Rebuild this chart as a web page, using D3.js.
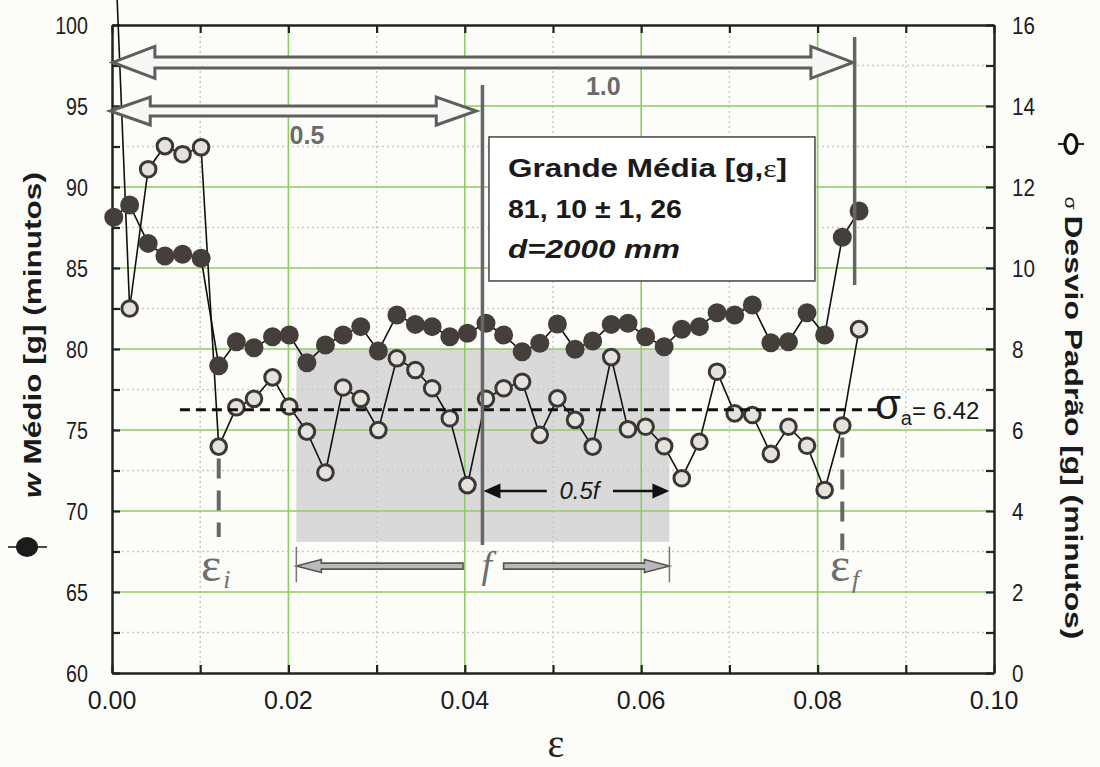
<!DOCTYPE html>
<html lang="pt">
<head>
<meta charset="utf-8">
<title>Grande Média</title>
<script src="https://d3js.org/d3.v7.min.js"></script>
<style>
body { margin:0; background:#fcfcf9; }
svg { display:block; font-family:"Liberation Sans", Arial, sans-serif; }
.tick-lbl { font-size:24px; fill:#1c1c1c; }
</style>
</head>
<body>
<div id="chart"></div>
<script>
// epsilon positions of the runs
var eps = [0.0002,0.0020,0.0041,0.0060,0.0080,0.0101,0.0121,0.0141,0.0161,0.0182,
  0.0201,0.0221,0.0242,0.0262,0.0282,0.0302,0.0323,0.0344,0.0363,0.0383,
  0.0403,0.0424,0.0444,0.0465,0.0485,0.0505,0.0525,0.0545,0.0566,0.0585,
  0.0605,0.0626,0.0646,0.0666,0.0686,0.0706,0.0726,0.0747,0.0767,0.0788,
  0.0808,0.0828,0.0847];
// w medio (left axis)
var wMedio = [88.13,88.89,86.52,85.74,85.85,85.60,78.97,80.45,80.08,80.76,
  80.86,79.15,80.25,80.86,81.38,79.88,82.10,81.52,81.38,80.76,
  80.97,81.59,80.86,79.83,80.35,81.54,79.98,80.49,81.52,81.59,
  80.76,80.14,81.22,81.38,82.24,82.10,82.72,80.39,80.45,82.24,
  80.86,86.90,88.52];
// desvio padrao (right axis), first one is off the chart
var sigma = [18.7,9.00,12.44,13.01,12.81,12.98,5.59,6.56,6.77,7.30,
  6.58,5.96,4.95,7.05,6.77,6.00,7.77,7.48,7.03,6.29,
  4.64,6.77,7.03,7.19,5.88,6.78,6.25,5.59,7.80,6.02,
  6.08,5.60,4.81,5.71,7.44,6.41,6.37,5.41,6.08,5.61,
  4.52,6.11,8.49];
var xTicks = [0, 0.02, 0.04, 0.06, 0.08, 0.10];
var leftTicks = [60, 65, 70, 75, 80, 85, 90, 95, 100];
var rightTicks = [0, 2, 4, 6, 8, 10, 12, 14, 16];
var sigmaA = 6.5;   // where the dashed line sits

var W = 1100, H = 767;
var x = d3.scaleLinear().domain([0, 0.1]).range([112, 994]);
var yL = d3.scaleLinear().domain([60, 100]).range([673, 25]);
var yR = d3.scaleLinear().domain([0, 16]).range([673, 25]);

var svg = d3.select("#chart").append("svg").attr("width", W).attr("height", H);

// grey band of the f window
svg.append("rect")
  .attr("x", x(0.0209)).attr("y", yL(80))
  .attr("width", x(0.0632) - x(0.0209)).attr("height", yL(68.1) - yL(80))
  .attr("fill", "#d9d9d9");

// minor dotted grid
var minorX = d3.range(0.01, 0.1, 0.02), minorY = d3.range(62.5, 100, 5);
svg.selectAll(".mgx").data(minorX).enter().append("line")
  .attr("x1", d => x(d)).attr("x2", d => x(d)).attr("y1", yL(60)).attr("y2", yL(100))
  .attr("stroke", "#c9c9c9").attr("stroke-width", 1.5).attr("stroke-dasharray", "2,3");
svg.selectAll(".mgy").data(minorY).enter().append("line")
  .attr("y1", d => yL(d)).attr("y2", d => yL(d)).attr("x1", x(0)).attr("x2", x(0.1))
  .attr("stroke", "#c9c9c9").attr("stroke-width", 1.5).attr("stroke-dasharray", "2,3");
// major green grid
svg.selectAll(".gx").data([0.02, 0.04, 0.06, 0.08]).enter().append("line")
  .attr("x1", d => x(d)).attr("x2", d => x(d)).attr("y1", yL(60)).attr("y2", yL(100))
  .attr("stroke", "#8fcb62").attr("stroke-width", 1.6);
svg.selectAll(".gy").data(d3.range(65, 100, 5)).enter().append("line")
  .attr("y1", d => yL(d)).attr("y2", d => yL(d)).attr("x1", x(0)).attr("x2", x(0.1))
  .attr("stroke", "#8fcb62").attr("stroke-width", 1.6);

// axes, ticks pointing inwards
function styleAxis(g){
  g.select(".domain").attr("stroke", "#222").attr("stroke-width", 2.5);
  g.selectAll(".tick line").attr("stroke", "#222").attr("stroke-width", 2.2);
}
var xt = d3.range(0, 0.1001, 0.01);
svg.append("g").attr("transform", "translate(0," + yL(60) + ")")
  .call(d3.axisBottom(x).tickValues(xt).tickSize(-8).tickSizeOuter(0).tickFormat("")).call(styleAxis);
svg.append("g").attr("transform", "translate(0," + yL(100) + ")")
  .call(d3.axisTop(x).tickValues(xt).tickSize(-8).tickSizeOuter(0).tickFormat("")).call(styleAxis);
svg.append("g").attr("transform", "translate(" + x(0) + ",0)")
  .call(d3.axisLeft(yL).tickValues(d3.range(60, 100.1, 2.5)).tickSize(-8).tickSizeOuter(0).tickFormat("")).call(styleAxis);
svg.append("g").attr("transform", "translate(" + x(0.1) + ",0)")
  .call(d3.axisRight(yR).tickValues(d3.range(0, 16.1, 1)).tickSize(-8).tickSizeOuter(0).tickFormat("")).call(styleAxis);

// tick labels (slightly condensed like the original)
svg.selectAll(".lt").data(leftTicks).enter().append("g")
  .attr("transform", d => "translate(88," + yL(d) + ") scale(0.82,1)")
  .append("text").attr("class", "tick-lbl").attr("text-anchor", "end").attr("dy", "0.36em").text(d => d);
svg.selectAll(".rt").data(rightTicks).enter().append("g")
  .attr("transform", d => "translate(1012," + yR(d) + ") scale(0.86,1)")
  .append("text").attr("class", "tick-lbl").attr("dy", "0.36em").text(d => d);
svg.selectAll(".bt").data(xTicks).enter().append("text")
  .attr("class", "tick-lbl").attr("x", d => x(d)).attr("y", 709)
  .attr("text-anchor", "middle").style("font-size", "25px").text(d => d.toFixed(2));

// data lines
var lineW = d3.line().x((d, i) => x(eps[i])).y(d => yL(d));
var lineS = d3.line().x((d, i) => x(eps[i])).y(d => yR(d));
svg.append("path").attr("d", lineW(wMedio)).attr("fill", "none").attr("stroke", "#111").attr("stroke-width", 1.6);
svg.append("path").attr("d", lineS(sigma)).attr("fill", "none").attr("stroke", "#111").attr("stroke-width", 1.6);

// dashed verticals at eps_i and eps_f
svg.append("line").attr("x1", x(eps[6])).attr("x2", x(eps[6]))
  .attr("y1", yR(sigma[6]) + 12).attr("y2", yL(68.4))
  .attr("stroke", "#666").attr("stroke-width", 4).attr("stroke-dasharray", "20,12");
svg.append("line").attr("x1", x(eps[41])).attr("x2", x(eps[41]))
  .attr("y1", yR(sigma[41]) + 12).attr("y2", yL(67.6))
  .attr("stroke", "#666").attr("stroke-width", 4).attr("stroke-dasharray", "20,12");

// points
svg.selectAll(".pw").data(wMedio).enter().append("circle")
  .attr("cx", (d, i) => x(eps[i])).attr("cy", d => yL(d)).attr("r", 9.5)
  .attr("fill", "#443f3a");
svg.selectAll(".ps").data(sigma).enter().append("circle")
  .attr("cx", (d, i) => x(eps[i])).attr("cy", d => yR(d)).attr("r", 7.8)
  .attr("fill", "#e5e1dd").attr("stroke", "#3a3734").attr("stroke-width", 3);

// sigma_a dashed line
svg.append("line").attr("x1", x(0.0077)).attr("x2", x(0.0868))
  .attr("y1", yR(sigmaA)).attr("y2", yR(sigmaA))
  .attr("stroke", "#111").attr("stroke-width", 3).attr("stroke-dasharray", "10,6");
var sa = svg.append("text").attr("x", x(0.0865)).attr("y", yR(sigmaA) + 9).attr("fill", "#1a1a1a");
sa.append("tspan").style("font-size", "42px").text("σ");
sa.append("tspan").style("font-size", "20px").attr("dy", 6).text("a");
sa.append("tspan").style("font-size", "24px").attr("dy", -6).text("= 6.42");

// solid grey verticals (f and eps_f)
svg.append("line").attr("x1", x(0.0420)).attr("x2", x(0.0420)).attr("y1", yL(96.3)).attr("y2", yL(67.9))
  .attr("stroke", "#666").attr("stroke-width", 3.5);
svg.append("line").attr("x1", x(0.0842)).attr("x2", x(0.0842)).attr("y1", yL(99.26)).attr("y2", yL(83.95))
  .attr("stroke", "#666").attr("stroke-width", 3.5);

// info box
svg.append("rect").attr("x", x(0.04274)).attr("y", yL(93.09))
  .attr("width", x(0.0797) - x(0.04274)).attr("height", yL(84.2) - yL(93.09))
  .attr("fill", "#fff").attr("stroke", "#444").attr("stroke-width", 1.5);
var bx = x(0.04274) + 19;
var t1 = svg.append("text").attr("x", bx).attr("y", 177).attr("font-weight", "bold")
  .style("font-size", "26px").attr("fill", "#1a1a1a").attr("textLength", 279).attr("lengthAdjust", "spacingAndGlyphs");
t1.append("tspan").text("Grande Média [g,");
t1.append("tspan").attr("font-family", "Liberation Serif, serif").attr("font-weight", "normal").text("ε");
t1.append("tspan").text("]");
svg.append("text").attr("x", bx).attr("y", 218).attr("font-weight", "bold").style("font-size", "26px")
  .attr("fill", "#1a1a1a").attr("textLength", 174).attr("lengthAdjust", "spacingAndGlyphs").text("81, 10 ± 1, 26");
svg.append("text").attr("x", bx).attr("y", 258).attr("font-weight", "bold").attr("font-style", "italic")
  .style("font-size", "26px").attr("fill", "#1a1a1a").attr("textLength", 172).attr("lengthAdjust", "spacingAndGlyphs").text("d=2000 mm");

// hollow double arrows at the top
function dblArrow(x1, x2, y, sh, hh, hl){
  return "M" + x1 + "," + y + "L" + (x1 + hl) + "," + (y - hh) + "L" + (x1 + hl) + "," + (y - sh) +
    "L" + (x2 - hl) + "," + (y - sh) + "L" + (x2 - hl) + "," + (y - hh) + "L" + x2 + "," + y +
    "L" + (x2 - hl) + "," + (y + hh) + "L" + (x2 - hl) + "," + (y + sh) + "L" + (x1 + hl) + "," + (y + sh) +
    "L" + (x1 + hl) + "," + (y + hh) + "Z";
}
svg.append("path").attr("d", dblArrow(x(0.0001), x(0.0840), yL(97.69), 5.5, 16, 42))
  .attr("fill", "#f7f7f5").attr("stroke", "#5e5e5e").attr("stroke-width", 3).attr("stroke-linejoin", "miter");
svg.append("path").attr("d", dblArrow(x(-0.0002), x(0.0413), yL(94.69), 5, 14, 40))
  .attr("fill", "#f7f7f5").attr("stroke", "#5e5e5e").attr("stroke-width", 3);
svg.append("text").attr("x", x(0.0557)).attr("y", 95).attr("text-anchor", "middle")
  .attr("font-weight", "bold").style("font-size", "25px").attr("fill", "#6b6b6b").text("1.0");
svg.append("text").attr("x", x(0.0221)).attr("y", 144).attr("text-anchor", "middle")
  .attr("font-weight", "bold").style("font-size", "25px").attr("fill", "#6b6b6b").text("0.5");

// 0.5f arrow
var yHalf = yL(71.23);
svg.append("line").attr("x1", x(0.0420) + 15).attr("x2", x(0.0493)).attr("y1", yHalf).attr("y2", yHalf)
  .attr("stroke", "#111").attr("stroke-width", 2.5);
svg.append("line").attr("x1", x(0.0568)).attr("x2", x(0.0632) - 15).attr("y1", yHalf).attr("y2", yHalf)
  .attr("stroke", "#111").attr("stroke-width", 2.5);
svg.append("path").attr("d", "M" + (x(0.0420) + 1) + "," + yHalf + "l17,-7.5l0,15z").attr("fill", "#111");
svg.append("path").attr("d", "M" + x(0.0632) + "," + yHalf + "l-17,-7.5l0,15z").attr("fill", "#111");
svg.append("text").attr("x", x(0.0530)).attr("y", yHalf + 8).attr("text-anchor", "middle")
  .attr("font-style", "italic").style("font-size", "24px").attr("fill", "#1a1a1a").text("0.5f");

// f arrows under the band
var yF = yL(66.6);
function oneArrow(tip, end, y, dir){
  var hl = 25 * dir, sh = 3, hh = 6.5;
  return "M" + tip + "," + y + "L" + (tip + hl) + "," + (y - hh) + "L" + (tip + hl) + "," + (y - sh) +
    "L" + end + "," + (y - sh) + "L" + end + "," + (y + sh) + "L" + (tip + hl) + "," + (y + sh) +
    "L" + (tip + hl) + "," + (y + hh) + "Z";
}
svg.append("path").attr("d", oneArrow(x(0.0209), x(0.0398), yF, 1)).attr("fill", "#b9b9b9").attr("stroke", "#555").attr("stroke-width", 1.6);
svg.append("path").attr("d", oneArrow(x(0.0632), x(0.0444), yF, -1)).attr("fill", "#b9b9b9").attr("stroke", "#555").attr("stroke-width", 1.6);
[0.0209, 0.0632].forEach(function(e){
  svg.append("line").attr("x1", x(e)).attr("x2", x(e)).attr("y1", yL(67.8)).attr("y2", yL(65.6))
    .attr("stroke", "#777").attr("stroke-width", 1.5);
});

// eps_i, f, eps_f labels
function epsLabel(e, sub){
  var t = svg.append("text").attr("x", x(e)).attr("y", 581).attr("fill", "#6e6e6e")
    .attr("font-family", "Liberation Serif, serif");
  t.append("tspan").style("font-size", "48px").text("ε");
  t.append("tspan").style("font-size", "26px").attr("font-style", "italic").attr("dx", 2).attr("dy", 7).text(sub);
}
epsLabel(0.0101, "i");
epsLabel(0.0814, "f");
svg.append("text").attr("x", x(0.0425)).attr("y", 578).attr("text-anchor", "middle")
  .attr("font-family", "Liberation Serif, serif").attr("font-style", "italic")
  .style("font-size", "38px").attr("fill", "#6e6e6e").text("f");

// x axis title
svg.append("text").attr("x", 556).attr("y", 757).attr("text-anchor", "middle")
  .attr("font-family", "Liberation Serif, serif").style("font-size", "40px").attr("fill", "#222").text("ε");

// left axis title with marker
var lg = svg.append("g");
var lt = lg.append("text").attr("font-weight", "bold").style("font-size", "24px").attr("fill", "#1a1a1a")
  .attr("text-anchor", "middle").attr("dy", "0.35em");
lt.append("tspan").attr("font-style", "italic").text("w");
lt.append("tspan").text(" Médio [g]   (minutos)");
var ll = lt.node().getComputedTextLength();
lg.attr("transform", "translate(33,335) rotate(-90) scale(" + (326 / ll) + ",1)");
svg.append("line").attr("x1", 8).attr("x2", 47).attr("y1", 547).attr("y2", 547).attr("stroke", "#111").attr("stroke-width", 1.6);
svg.append("ellipse").attr("cx", 27).attr("cy", 547).attr("rx", 11).attr("ry", 10).attr("fill", "#1c1c1c");

// right axis title with marker
var rg = svg.append("g");
var rt = rg.append("text").attr("fill", "#1a1a1a").attr("text-anchor", "middle").attr("dy", "0.35em");
rt.append("tspan").style("font-size", "16px").text("σ ");
rt.append("tspan").attr("font-weight", "bold").style("font-size", "24px").text("Desvio Padrão [g]  (minutos)");
var rl = rt.node().getComputedTextLength();
rg.attr("transform", "translate(1071,418) rotate(90) scale(" + (443 / rl) + ",1)");
svg.append("line").attr("x1", 1058).attr("x2", 1084).attr("y1", 144).attr("y2", 144).attr("stroke", "#111").attr("stroke-width", 1.8);
svg.append("ellipse").attr("cx", 1071).attr("cy", 144).attr("rx", 6).attr("ry", 9.5)
  .attr("fill", "#fff").attr("stroke", "#111").attr("stroke-width", 3.2);
</script>
</body>
</html>
